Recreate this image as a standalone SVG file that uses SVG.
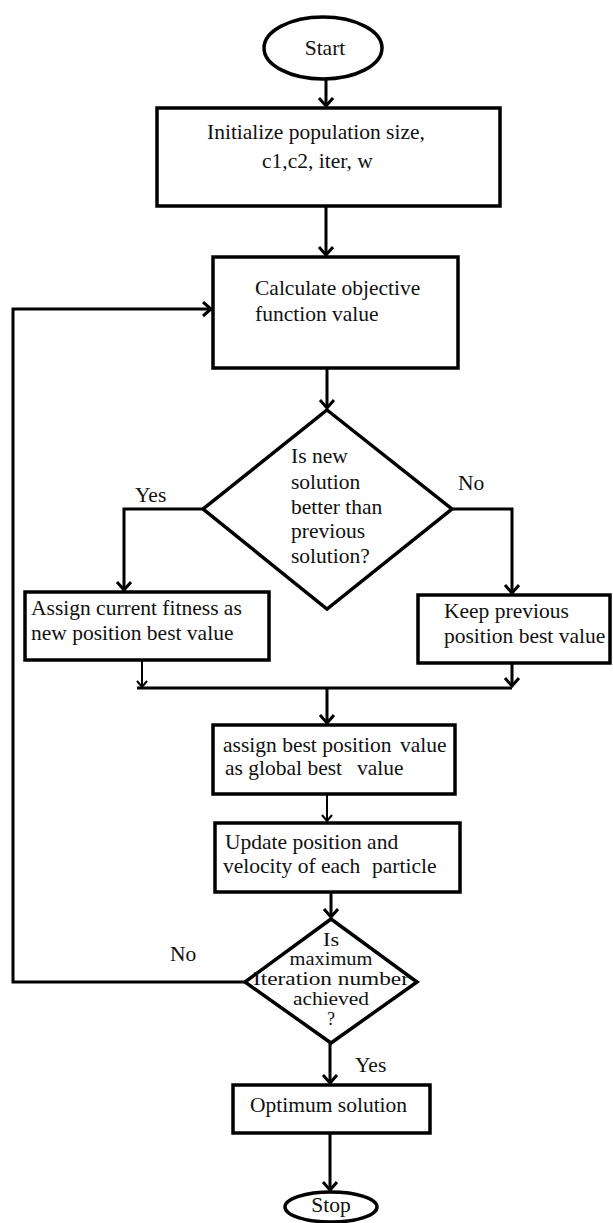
<svg xmlns="http://www.w3.org/2000/svg" width="613" height="1223" viewBox="0 0 613 1223">
<style>
.shape{fill:#fff;stroke:#000;stroke-width:3.5}
.ln{fill:none;stroke:#000;stroke-width:3}
.thin{fill:none;stroke:#000;stroke-width:2}
text{font-family:'Liberation Serif','Times New Roman',Tinos,'DejaVu Serif','Noto Serif',serif;font-size:21.5px;fill:#111}
.c{text-anchor:middle}
.d2{font-size:18px}
</style>
<defs>
<marker id="ah" markerUnits="userSpaceOnUse" markerWidth="20" markerHeight="20" refX="10" refY="8" orient="auto" viewBox="0 0 20 20">
<path d="M2,1 L10,8 L2,15" fill="none" stroke="#000" stroke-width="3"/>
</marker>
<marker id="ahs" markerUnits="userSpaceOnUse" markerWidth="16" markerHeight="16" refX="8" refY="6" orient="auto" viewBox="0 0 16 16">
<path d="M2,1 L8,6 L2,11" fill="none" stroke="#000" stroke-width="2"/>
</marker>
</defs>
<rect width="613" height="1223" fill="#fff"/>
<g id="connectors">
<path class="ln" d="M326,79 L326,106" marker-end="url(#ah)"/>
<path class="ln" d="M326,206 L326,255" marker-end="url(#ah)"/>
<path class="ln" d="M327,368 L327,408" marker-end="url(#ah)"/>
<path class="ln" d="M203,509 L124,509 L124,590" marker-end="url(#ah)"/>
<path class="ln" d="M452,509 L512,509 L512,593" marker-end="url(#ah)"/>
<path class="thin" d="M142,660 L142,687" marker-end="url(#ahs)"/>
<path class="ln" d="M512,663 L512,686" marker-end="url(#ah)"/>
<path class="ln" d="M137,688 L512,688"/>
<path class="ln" d="M327,688 L327,723" marker-end="url(#ah)"/>
<path class="thin" d="M327,794 L327,821" marker-end="url(#ahs)"/>
<path class="ln" d="M331,892 L331,917" marker-end="url(#ah)"/>
<path class="ln" d="M245,982 L13,982 L13,309 L211,309" marker-end="url(#ah)"/>
<path class="ln" d="M330,1043 L330,1083" marker-end="url(#ah)"/>
<path class="ln" d="M330,1133 L330,1190" marker-end="url(#ah)"/>
<text x="135" y="502" font-size="22">Yes</text>
<text x="458" y="490" font-size="22">No</text>
<text x="170" y="961" font-size="22">No</text>
<text x="355" y="1072" font-size="22">Yes</text>
</g>
<g id="start">
<ellipse class="shape" cx="323" cy="48" rx="59" ry="31"/>
<text class="c" x="325" y="55">Start</text>
</g>
<g id="init">
<rect class="shape" x="157" y="108" width="343" height="98"/>
<text x="207" y="139">Initialize population size,</text>
<text x="262" y="168">c1,c2, iter, w</text>
</g>
<g id="calc">
<rect class="shape" x="213" y="257" width="245" height="111"/>
<text x="255" y="295">Calculate objective</text>
<text x="255" y="321">function value</text>
</g>
<g id="decision1">
<polygon class="shape" points="327,410 452,509 327,609 203,509"/>
<text x="291" y="463">Is new</text>
<text x="291" y="489">solution</text>
<text x="291" y="514">better than</text>
<text x="291" y="538">previous</text>
<text x="291" y="563">solution?</text>
</g>
<g id="assign">
<rect class="shape" x="25" y="592" width="244" height="68"/>
<text x="31" y="615">Assign current fitness as</text>
<text x="31" y="640">new position best value</text>
</g>
<g id="keep">
<rect class="shape" x="418" y="595" width="192" height="68"/>
<text x="444" y="618">Keep previous</text>
<text x="444" y="643">position best value</text>
</g>
<g id="global">
<rect class="shape" x="213" y="725" width="242" height="69"/>
<text x="223" y="752">assign best position<tspan x="400">value</tspan></text>
<text x="225" y="775">as global best<tspan x="357">value</tspan></text>
</g>
<g id="update">
<rect class="shape" x="215" y="823" width="245" height="69"/>
<text x="225" y="849">Update position and</text>
<text x="223" y="873">velocity of each<tspan x="372">particle</tspan></text>
</g>
<g id="decision2">
<polygon class="shape" points="331,919 417,982 331,1043 245,982"/>
<text class="c d2" x="331" y="946" textLength="16" lengthAdjust="spacingAndGlyphs">Is</text>
<text class="c d2" x="331" y="965" textLength="83" lengthAdjust="spacingAndGlyphs">maximum</text>
<text class="c d2" x="331" y="985" textLength="156" lengthAdjust="spacingAndGlyphs">Iteration number</text>
<text class="c d2" x="331" y="1005" textLength="76" lengthAdjust="spacingAndGlyphs">achieved</text>
<text class="c d2" x="331" y="1025">?</text>
</g>
<g id="optimum">
<rect class="shape" x="233" y="1085" width="197" height="48"/>
<text x="250" y="1112">Optimum solution</text>
</g>
<g id="stop">
<ellipse class="shape" cx="331" cy="1207" rx="46" ry="15"/>
<text class="c" x="331" y="1212">Stop</text>
</g>
</svg>
